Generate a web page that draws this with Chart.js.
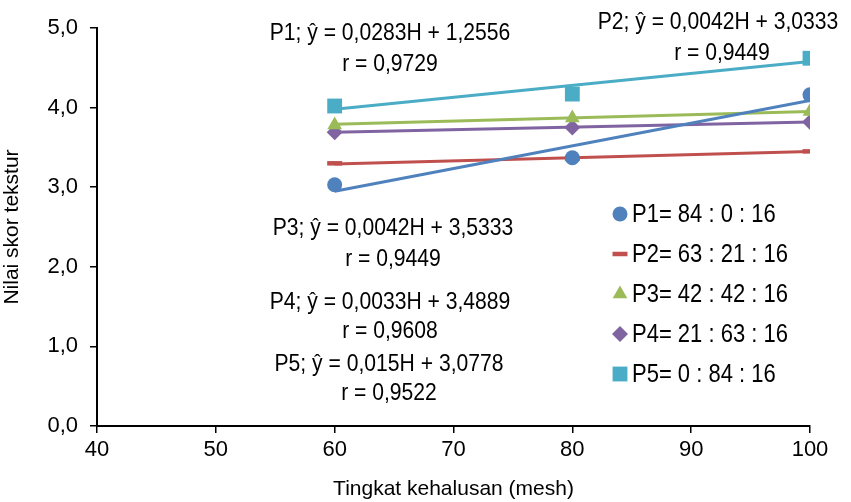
<!DOCTYPE html>
<html>
<head>
<meta charset="utf-8">
<script src="https://cdn.jsdelivr.net/npm/chart.js@4.4.1/dist/chart.umd.min.js"></script>
<style>
  html, body { margin: 0; padding: 0; background: #fff; }
  #wrap { width: 851px; height: 502px; }
</style>
</head>
<body>
<div id="wrap"><canvas id="chart" width="851" height="502"></canvas></div>
<script>
// mesh levels (x)
var mesh = [60, 80, 100];

// observed texture scores per formulation
var p1 = [3.03, 3.37, 4.16];
var p2 = [3.30, 3.36, 3.45];
var p3 = [3.78, 3.87, 3.95];
var p4 = [3.69, 3.75, 3.82];
var p5 = [4.02, 4.17, 4.62];

// trend line end points (at 60 and 100 mesh)
var trendX = [60, 100];
var trend1 = [2.95, 4.09];
var trend2 = [3.29, 3.45];
var trend3 = [3.79, 3.95];
var trend4 = [3.69, 3.82];
var trend5 = [3.98, 4.58];

var seriesNames = ['P1= 84 : 0 : 16', 'P2= 63 : 21 : 16', 'P3= 42 : 42 : 16', 'P4= 21 : 63 : 16', 'P5= 0 : 84 : 16'];
var colors = ['#4F81BD', '#C0504D', '#9BBB59', '#8064A2', '#4BACC6'];
var styles = ['circle', 'line', 'triangle', 'rectRot', 'rect'];
var sizes = [7.5, 7.5, 8.5, 8, 10.5];

var yTicks = [0, 1, 2, 3, 4, 5];
var xTicks = [40, 50, 60, 70, 80, 90, 100];

// equation labels
var eqLabels = [
    { text: 'P1; ŷ = 0,0283H + 1,2556', x: 390, y: 33 },
    { text: 'r = 0,9729', x: 390, y: 64 },
    { text: 'P2; ŷ = 0,0042H + 3,0333', x: 718, y: 22 },
    { text: 'r = 0,9449', x: 722, y: 53 },
    { text: 'P3; ŷ = 0,0042H + 3,5333', x: 393, y: 228 },
    { text: 'r = 0,9449', x: 393, y: 259 },
    { text: 'P4; ŷ = 0,0033H + 3,4889', x: 390, y: 302 },
    { text: 'r = 0,9608', x: 390, y: 331 },
    { text: 'P5; ŷ = 0,015H + 3,0778', x: 389, y: 364 },
    { text: 'r = 0,9522', x: 389, y: 393 }
];

var FONT = '"Liberation Sans", Arial, sans-serif';
var SX = 0.88; // narrow the text a bit, like the original's condensed face

var points = [p1, p2, p3, p4, p5];
var trends = [trend1, trend2, trend3, trend4, trend5];

var datasets = [];
// trend lines first so markers sit on top
for (var i = 0; i < 5; i++) {
    datasets.push({
        label: 'trend' + (i + 1),
        data: trendX.map(function (x, j) { return { x: x, y: trends[i][j] }; }),
        borderColor: colors[i],
        borderWidth: 3,
        showLine: true,
        pointRadius: 0,
        order: 2
    });
}
for (var i = 0; i < 5; i++) {
    datasets.push({
        label: seriesNames[i],
        data: mesh.map(function (x, j) { return { x: x, y: points[i][j] }; }),
        backgroundColor: colors[i],
        borderColor: colors[i],
        pointStyle: styles[i],
        pointRadius: sizes[i],
        pointBorderWidth: styles[i] === 'line' ? 4.5 : 0,
        showLine: false,
        order: 1
    });
}

function narrowText(ctx, text, x, y) {
    ctx.save();
    ctx.translate(x, y);
    ctx.scale(SX, 1);
    ctx.fillText(text, 0, 0);
    ctx.restore();
}

var textPlugin = {
    id: 'textPlugin',
    afterDraw: function (chart) {
        var ctx = chart.ctx;
        ctx.save();
        ctx.fillStyle = '#000';
        ctx.font = '24px ' + FONT;
        ctx.textAlign = 'center';
        ctx.textBaseline = 'middle';
        eqLabels.forEach(function (l) { narrowText(ctx, l.text, l.x, l.y); });

        // legend inside plot area
        ctx.font = '25px ' + FONT;
        ctx.textAlign = 'left';
        for (var i = 0; i < 5; i++) {
            var y = 214 + i * 40;
            ctx.fillStyle = colors[i];
            ctx.strokeStyle = colors[i];
            ctx.lineWidth = 4.5;
            Chart.helpers.drawPoint(ctx, {
                pointStyle: styles[i],
                radius: sizes[i],
                rotation: 0,
                borderWidth: styles[i] === 'line' ? 4.5 : 0
            }, 620, y);
            ctx.fillStyle = '#000';
            narrowText(ctx, seriesNames[i], 632, y + 1);
        }
        ctx.restore();
    }
};

new Chart(document.getElementById('chart').getContext('2d'), {
    type: 'scatter',
    data: { datasets: datasets },
    options: {
        responsive: false,
        animation: false,
        layout: { padding: { top: 28, right: 41, left: 0, bottom: 0 } },
        plugins: {
            legend: { display: false },
            tooltip: { enabled: false }
        },
        scales: {
            x: {
                type: 'linear',
                min: 40,
                max: 100,
                afterBuildTicks: function (s) { s.ticks = xTicks.map(function (v) { return { value: v }; }); },
                afterFit: function (s) { s.height = 76; },
                border: { display: true, color: '#000', width: 2 },
                grid: { drawOnChartArea: false, drawTicks: true, tickLength: 7, color: '#000', lineWidth: 1.5 },
                ticks: { color: '#000', font: { family: FONT, size: 22 }, padding: 4, maxRotation: 0 },
                title: { display: true, text: 'Tingkat kehalusan (mesh)', color: '#000', font: { family: FONT, size: 21 }, padding: { top: 0, bottom: 0 } }
            },
            y: {
                min: 0,
                max: 5,
                afterBuildTicks: function (s) { s.ticks = yTicks.map(function (v) { return { value: v }; }); },
                afterFit: function (s) { s.width = 97; },
                border: { display: true, color: '#000', width: 2 },
                grid: { drawOnChartArea: false, drawTicks: true, tickLength: 7, color: '#000', lineWidth: 1.5 },
                ticks: {
                    color: '#000',
                    font: { family: FONT, size: 22 },
                    padding: 12,
                    callback: function (v) { return v.toFixed(1).replace('.', ','); }
                },
                title: { display: true, text: 'Nilai skor tekstur', color: '#000', font: { family: FONT, size: 21 }, padding: { top: 0, bottom: 4 } }
            }
        }
    },
    plugins: [textPlugin]
});
</script>
</body>
</html>
